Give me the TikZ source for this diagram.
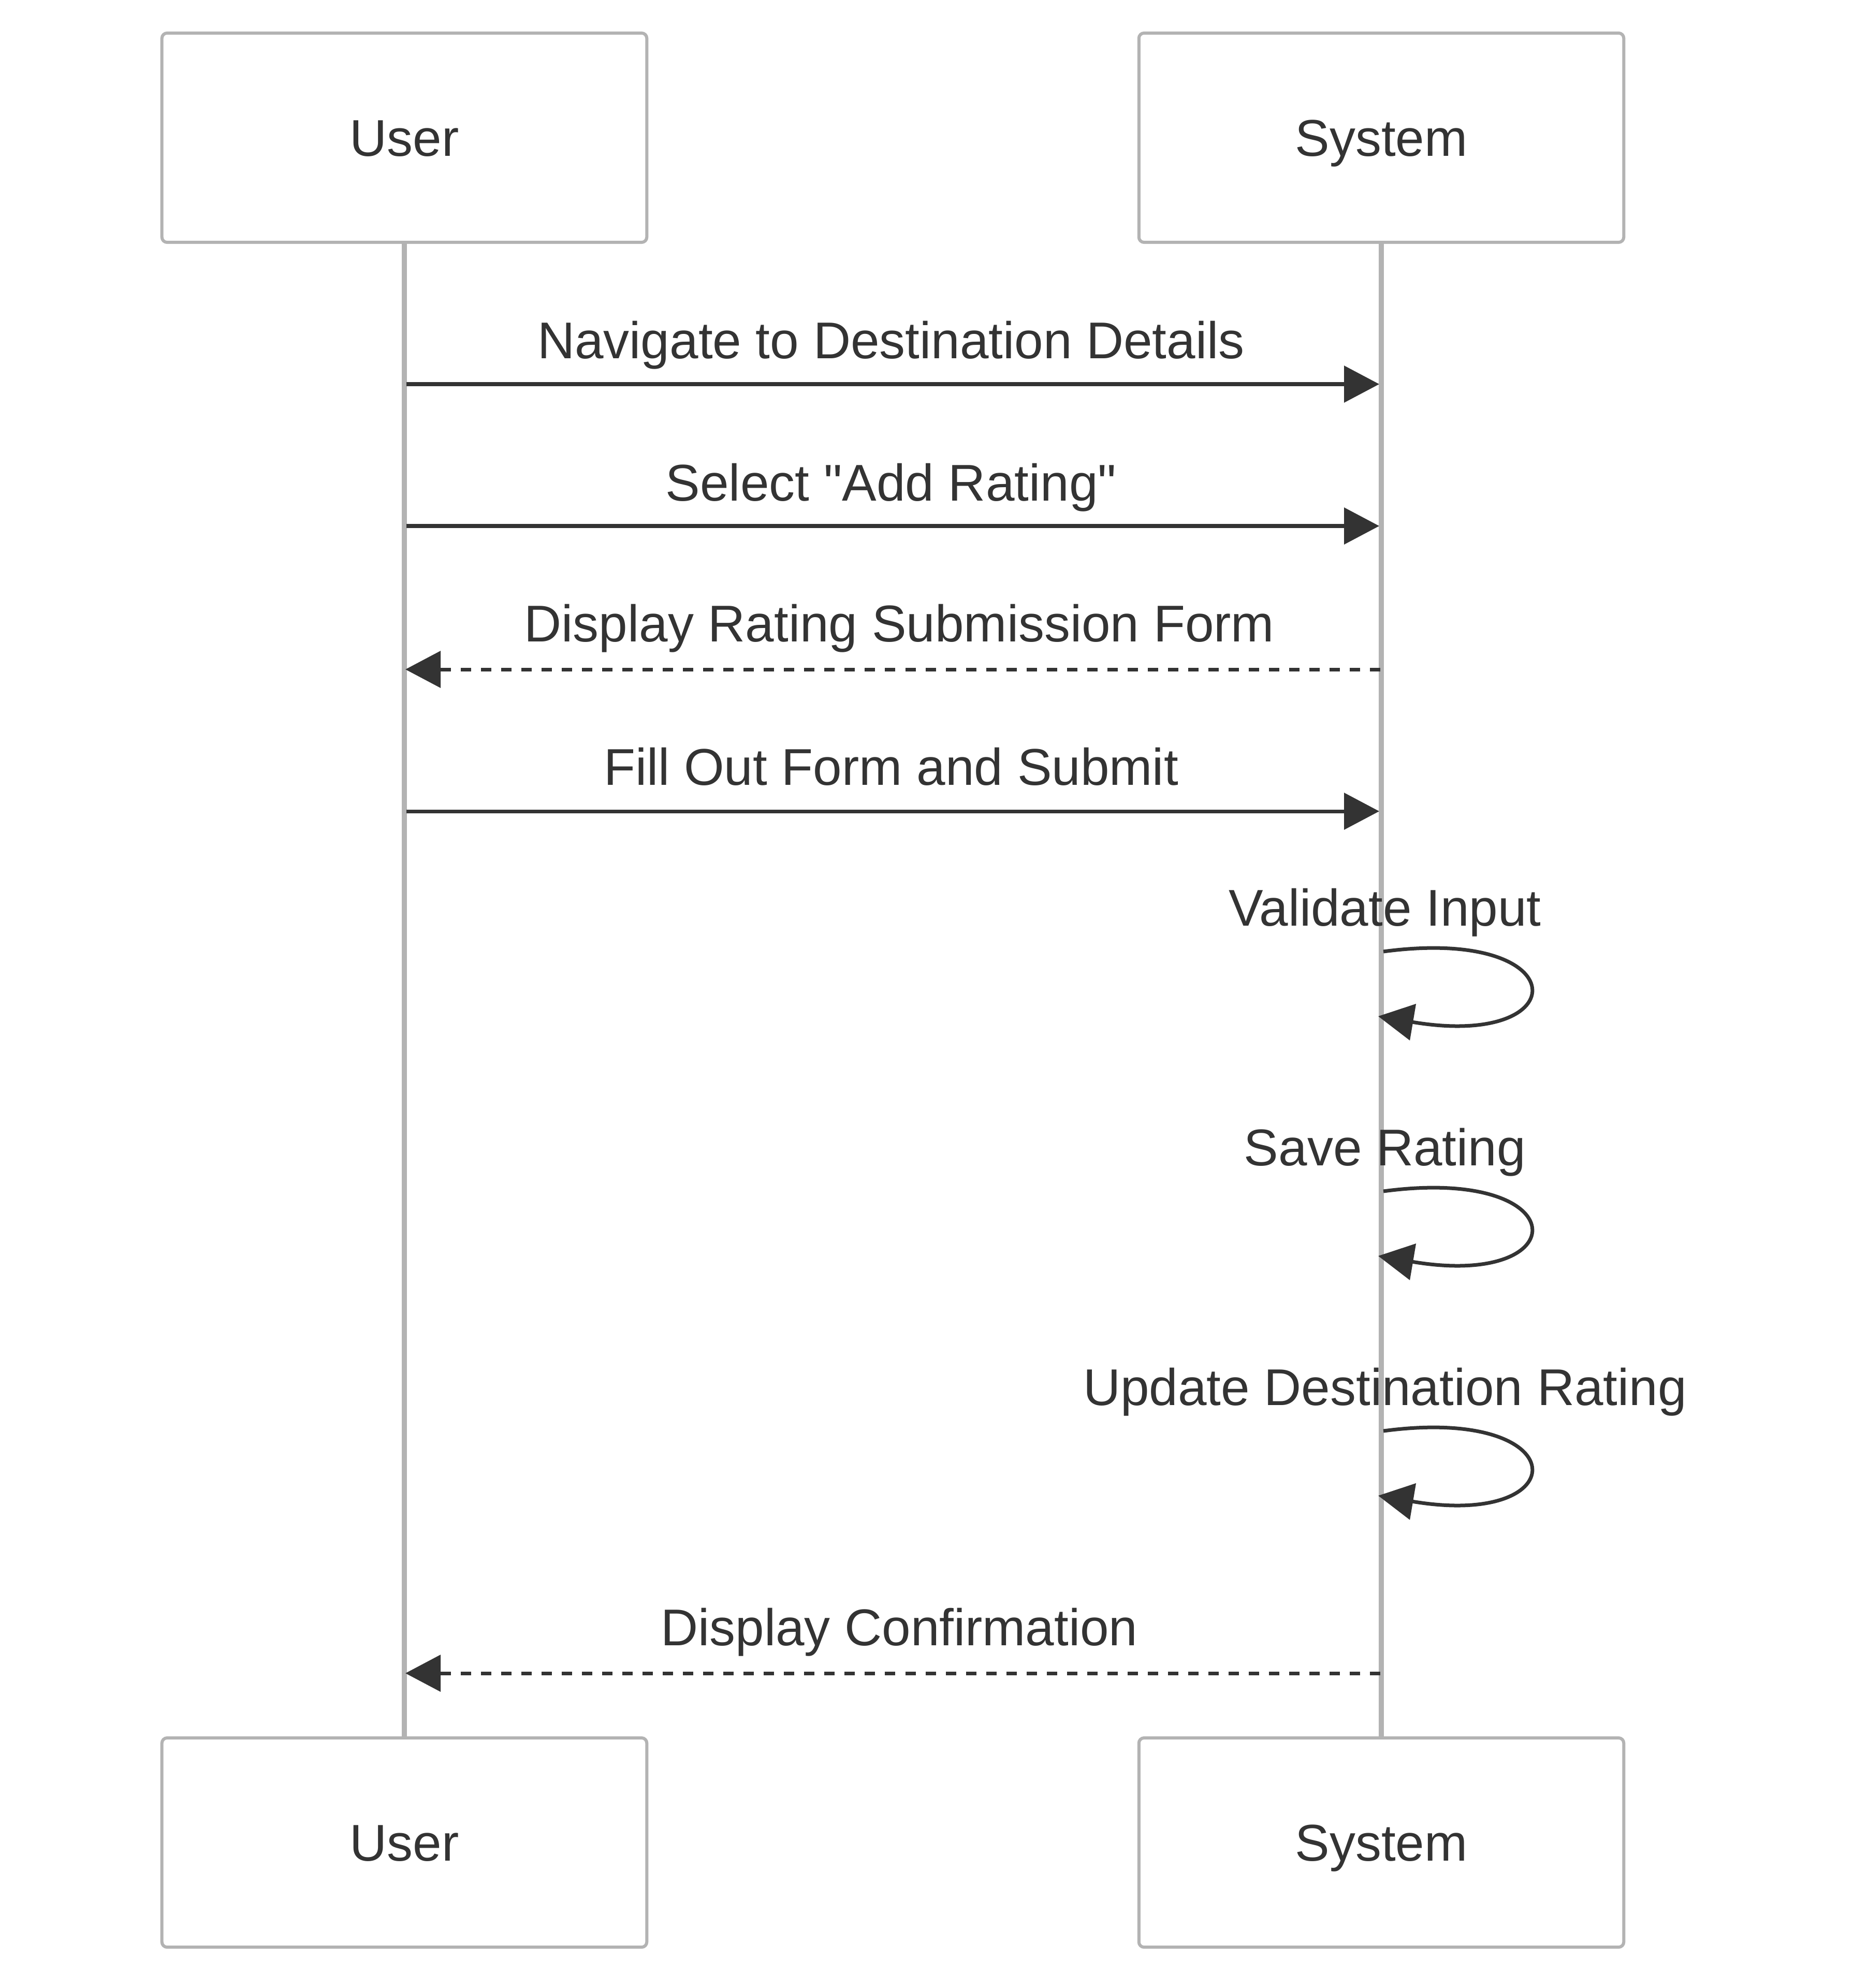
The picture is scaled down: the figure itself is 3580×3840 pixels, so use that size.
\documentclass[tikz,border=0pt]{standalone}
\usepackage{fontspec}
\setmainfont{Liberation Sans}[Ligatures=TeXOff]
\usetikzlibrary{arrows.meta}
\definecolor{txt}{HTML}{333333}
\definecolor{edge}{HTML}{B3B3B3}
\tikzset{
  actorbox/.style={draw=edge, line width=0.06cm, rounded corners=0.1cm, fill=white,
    minimum width=9.36cm, minimum height=4.04cm, text=txt, inner sep=0pt,
    text height=0.716cm, text depth=0pt,
    font=\fontsize{28.4}{34}\selectfont},
  lifeline/.style={draw=edge, line width=0.1cm},
  msg/.style={draw=txt, line width=0.07cm, -{Triangle[length=0.68cm, width=0.7cm]}},
  reply/.style={msg, dash pattern=on 0.2cm off 0.19cm},
  lbl/.style={text=txt, inner sep=0pt, anchor=base, font=\fontsize{28.4}{34}\selectfont},
}
\begin{document}
\begin{tikzpicture}[x=0.01cm, y=-0.01cm]
\useasboundingbox (0,0) rectangle (3580,3840);
% actors
\node[actorbox] (ut) at (781,266) {User};
\node[actorbox] (st) at (2668,266) {System};
\node[actorbox] (ub) at (781,3559) {User};
\node[actorbox] (sb) at (2668,3559) {System};
% lifelines
\draw[lifeline] (ut.south) -- (ub.north);
\draw[lifeline] (st.south) -- (sb.north);
% message end points
\coordinate (u1) at (785,742);  \coordinate (s1) at (2664,742);
\coordinate (u2) at (785,1016); \coordinate (s2) at (2664,1016);
\coordinate (u3) at (783,1293); \coordinate (s3) at (2666,1293);
\coordinate (u4) at (785,1567); \coordinate (s4) at (2664,1567);
\coordinate (u8) at (783,3232); \coordinate (s8) at (2666,3232);
% messages
\draw[msg] (u1) -- (s1);
\node[lbl] (l1) at (1721,693) {Navigate to Destination Details};
\draw[msg] (u2) -- (s2);
\node[lbl] (l2) at (1721,967) {Select "Add Rating"};
\draw[reply] (s3) -- (u3);
\node[lbl] (l3) at (1737,1239) {Display Rating Submission Form};
\draw[msg] (u4) -- (s4);
\node[lbl] (l4) at (1721,1516) {Fill Out Form and Submit};
% self loops
\foreach \y/\n/\t in {1838/5/Validate Input, 2301/6/Save Rating, 2764/7/Update Destination Rating}{
  \coordinate (a\n) at (2672,\y);
  \coordinate (b\n) at (2662,\y+125);
  \draw[msg] (a\n) .. controls (3046,\y-50) and (3046,\y+190) .. (b\n);
  \node[lbl] (l\n) at (2675,\y-50) {\t};
}
\draw[reply] (s8) -- (u8);
\node[lbl] (l8) at (1737,3178) {Display Confirmation};
\end{tikzpicture}
\end{document}
